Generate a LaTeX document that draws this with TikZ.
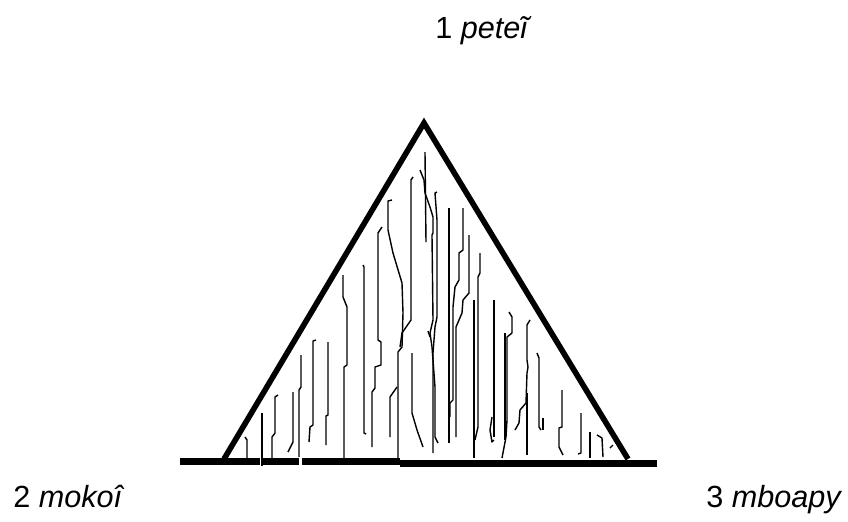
\documentclass[tikz,border=0pt]{standalone}
\usepackage{fontspec}
\setmainfont{Liberation Sans}
\usepackage{tikz}
\definecolor{ink}{RGB}{0,0,0}
\newcommand{\fibre}[1]{%
  \draw[ink,line width=0.7pt,line join=round] plot coordinates {#1};%
}
\newcommand{\vlabel}[4]{%
  \node[font=\fontsize{15.3}{18}\selectfont,anchor=base west,inner sep=0pt] (#1) at (#2,#3) {#4};%
}

\begin{document}
\begin{tikzpicture}[x=0.5pt,y=-0.5pt]
  \useasboundingbox (0,0) rectangle (848,521);
  % hatching, left half
  \fibre{(245,437) (247,440) (247,458)}
  \fibre{(262,413) (262,463)}
  \fibre{(278,395) (275,397) (275,433) (272,437) (272,458)}
  \fibre{(293,392) (293,442) (288,452)}
  \fibre{(301,355) (301,387) (299,390) (299,457)}
  \fibre{(316,340) (313,341) (313,425) (310,427) (309,442)}
  \fibre{(328,342) (328,415) (326,416) (326,445)}
  \fibre{(343,275) (343,297) (347,307) (347,365) (344,367) (344,458)}
  \fibre{(363,265) (364,267) (364,433) (366,434)}
  \fibre{(382,227) (378,233) (378,340) (381,342) (381,365) (375,367) (375,388) (372,392) (372,447)}
  \fibre{(392,200) (388,201) (388,230) (393,253) (402,283) (403,313) (402,347) (398,352) (398,458)}
  \fibre{(397,387) (390,397) (390,437)}
  \fibre{(413,177) (411,180) (411,320) (402,333) (400,347)}
  \fibre{(412,353) (412,413) (417,430) (423,447)}
  \fibre{(420,170) (424,180) (425,193) (430,207) (433,217) (433,233) (432,235) (433,320) (430,333) (432,347) (433,360) (435,387) (435,437) (438,443)}
  \fibre{(425,152) (426,242)}
  \fibre{(428,331) (430,337)}
  % hatching, right half
  \fibre{(437,192) (435,193) (437,220) (437,317) (435,327) (433,353) (433,453)}
  \fibre{(449,208) (449,443)}
  \fibre{(463,208) (463,250) (459,253) (459,280) (455,287) (453,307) (453,400) (450,403) (450,417)}
  \fibre{(469,235) (469,293) (463,300) (462,313) (456,327) (456,437)}
  \fibre{(480,253) (480,273) (478,277) (478,427) (475,440)}
  \fibre{(474,300) (474,458)}
  \fibre{(494,300) (494,437)}
  \fibre{(492,417) (490,430) (492,442) (494,440)}
  \fibre{(509,312) (512,317) (512,333) (507,337) (507,420) (506,437) (502,458)}
  \fibre{(505,333) (505,440)}
  \fibre{(530,320) (527,325) (527,360) (528,367) (527,373) (526,403) (520,410) (519,423) (515,430)}
  \fibre{(527,393) (527,455)}
  \fibre{(537,353) (539,358) (539,427) (541,430)}
  \fibre{(543,418) (543,430)}
  \fibre{(562,390) (562,427) (559,428) (559,447) (563,455)}
  \fibre{(581,413) (581,453) (578,454)}
  \fibre{(590,432) (590,458)}
  \fibre{(597,435) (602,438) (603,457)}
  \fibre{(610,448) (613,445)}
  % triangle and ground
  \draw[ink,line width=2.8pt] (224,459) -- (424,123) -- (628,459);
  \draw[ink,line width=3.5pt] (180,461.5) -- (400,461.5);
  \draw[ink,line width=3.5pt] (400,463) -- (657,463);
  \fill[white] (259.5,457) rectangle (263,466);
  \fill[white] (299,457) rectangle (302,466);
  \draw[ink,line width=0.7pt] (262,455) -- (262,466);
  % labels
  \vlabel{top}{435}{38}{1 \textit{peteĩ}}
  \vlabel{left}{13}{507}{2 \textit{mokoî}}
  \vlabel{right}{706}{507}{3 \textit{mboapy}}
\end{tikzpicture}
\end{document}
